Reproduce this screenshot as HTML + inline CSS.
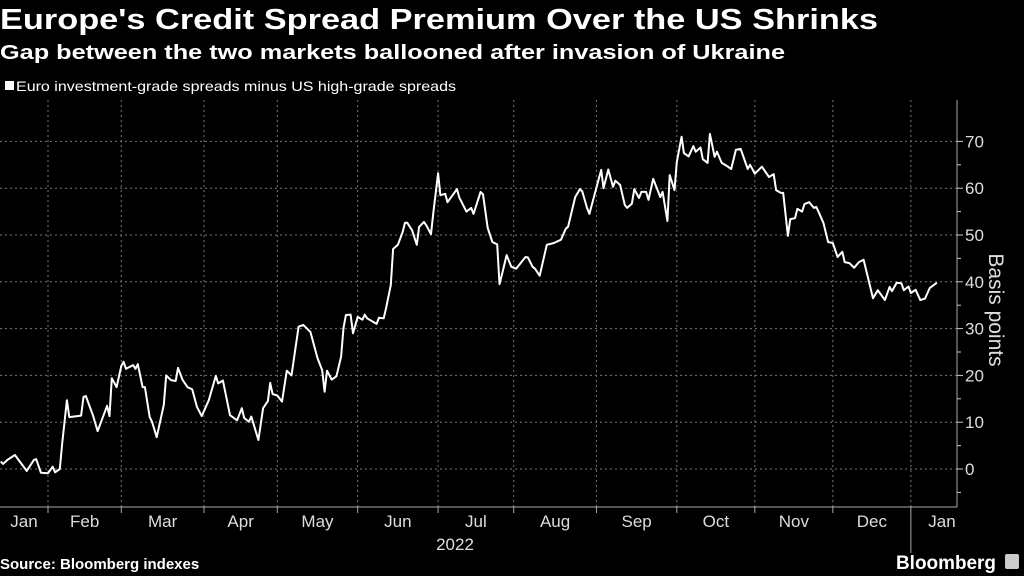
<!DOCTYPE html>
<html><head><meta charset="utf-8"><style>
html,body{margin:0;padding:0;background:#000;width:1024px;height:576px;overflow:hidden}
svg{display:block;font-family:"Liberation Sans",sans-serif}
</style></head><body>
<svg id="chart" width="1024" height="576" viewBox="0 0 1024 576">
<text x="0" y="29" fill="#fff" font-size="29" font-weight="bold" textLength="878" lengthAdjust="spacingAndGlyphs">Europe's Credit Spread Premium Over the US Shrinks</text>
<text x="0" y="59" fill="#fff" font-size="20" font-weight="bold" textLength="785" lengthAdjust="spacingAndGlyphs">Gap between the two markets ballooned after invasion of Ukraine</text>
<g>
<rect x="5" y="81" width="9" height="9" fill="#fff"/>
<text x="16" y="91" fill="#fff" font-size="14" textLength="440" lengthAdjust="spacingAndGlyphs">Euro investment-grade spreads minus US high-grade spreads</text>
</g>
<g id="grid"></g>
<g id="axes"></g>
<path id="line" fill="none" stroke="#fff" stroke-width="2" stroke-linejoin="round"/>
<text x="0" y="569" fill="#fff" font-size="15" font-weight="bold">Source: Bloomberg indexes</text>
<text x="896" y="569" fill="#fff" font-size="19" font-weight="bold" textLength="100" lengthAdjust="spacingAndGlyphs">Bloomberg</text>
<rect x="1005" y="554" width="14" height="15" rx="2" fill="#ccc"/>
</svg>
<script>
// time index (0 = start of February 2022)
const days=[-20,-19,-17,-14,-9,-6,-5,-3,0,2,3,5,6,8,9,14,15,16,19,21,25,26,27,29,31,32,33,36,37,38,40,41,43,44,46,49,50,52,54,55,57,59,61,63,65,68,71,72,74,77,80,82,83,85,86,89,91,93,94,95,97,99,101,103,106,108,111,114,116,117,118,120,122,124,125,126,128,129,131,133,134,135,139,140,142,143,145,146,148,150,151,152,154,156,157,159,160,162,163,165,166,168,169,171,173,174,176,177,179,180,183,184,186,188,190,191,192,194,196,198,202,203,205,206,208,211,214,217,219,220,223,225,226,228,229,233,234,235,237,239,240,242,244,245,247,248,250,251,253,254,256,259,260,262,263,265,266,268,269,271,273,274,276,277,279,280,282,283,285,287,289,291,293,296,297,299,302,305,307,308,310,311,313,314,316,317,319,320,322,324,325,328,330,332,334,336,337,339,341,343,345,349,351,354,356,357,359,361,362,364,365,367,369,371,373,376];
const values=[1.6,1.1,2,3,-0.4,1.9,2.1,-0.8,-0.9,0.5,-0.7,0,5.5,14.7,11.1,11.4,15.4,15.6,11.5,8.1,13.5,11.3,19.4,17.5,22,22.9,21.4,22.2,21.4,22.4,17.5,17.5,11.1,10.1,6.8,13.7,20,19,18.8,21.6,19,17.5,17,13.3,11.3,14.7,19.9,18.3,18.9,11.5,10.4,13,10.9,10.1,11.2,6.2,13,14.5,18.4,16,15.7,14.4,21,20,30.4,30.8,29.3,23.7,21.1,16.5,21,19.1,19.8,24,30.1,32.9,33,29,32.5,31.9,33,32.2,31,32.3,32.2,34.4,39.3,47,47.9,50.6,52.6,52.6,51,47.9,51.7,52.8,52.1,50.2,54.7,63.2,58.5,58.8,57,58.4,59.8,58,56,55,55.8,54.5,59.2,58.7,51.5,48.5,48,39.5,41.5,45.7,43.2,42.8,45.3,45.2,43.2,42.8,41.3,47.9,48.3,49,51.3,51.8,58.1,59.8,59.3,55.8,54.5,62,63.9,60,64,60.3,61.6,60.7,56.4,55.8,56.7,59.8,57.9,59.2,59.2,57.5,62,58.1,59.2,53,62.8,59.6,65.6,71,67.5,66.8,69,67.8,68.7,66.2,65.4,71.6,66.7,67.8,65.4,64.8,64.1,68.2,68.4,64.1,65,63.1,64.6,62.4,63,59.6,59,59,49.8,53.4,53.6,55.6,55,56.6,57,55.8,56,52.6,48.5,48.3,45.3,46.4,44.2,44,43,44.2,44.7,36.5,38.2,36.1,38.9,38,39.8,39.7,38.2,39,37.6,38.3,36.1,36.4,38.7,39.8];
const yTicks=[0,10,20,30,40,50,60,70];
const monthLabels=["Jan","Feb","Mar","Apr","May","Jun","Jul","Aug","Sep","Oct","Nov","Dec","Jan"];
const monthStarts=[0,31,66,97,131,165,197,232,266,299,332,365];
const NS="http://www.w3.org/2000/svg";
const X0=48,PXD=2.364,Y0=469,PXV=4.68,AX=957,TOP=100,BOT=507;
const xs=d=>X0+d*PXD, ys=v=>Y0-v*PXV;
const grid=document.getElementById('grid'),axes=document.getElementById('axes');
function mk(tag,attrs,parent){const e=document.createElementNS(NS,tag);for(const k in attrs)e.setAttribute(k,attrs[k]);parent.appendChild(e);return e;}
yTicks.forEach(v=>{
 const g=mk('line',{x1:0,x2:AX,y1:ys(v),y2:ys(v),stroke:'#777','stroke-width':1,'stroke-dasharray':'2 3'},grid);
 
 
 const t=mk('line',{x1:AX,x2:AX+6,y1:ys(v),y2:ys(v),stroke:'#ccc'},axes);
 
 
 const m=mk('line',{x1:AX,x2:AX+4,y1:ys(v-5),y2:ys(v-5),stroke:'#ccc'},axes);
 
 
 const l=mk('text',{x:AX+8,y:ys(v)+6,fill:'#ddd','font-size':17},axes);l.textContent=v;
 
 
});
monthStarts.forEach((d,i)=>{
 const x=xs(d);
 const g=mk('line',{x1:x,x2:x,y1:TOP,y2:BOT,stroke:'#777','stroke-dasharray':'2 3'},grid);
 
 
 const t=mk('line',{x1:x,x2:x,y1:BOT,y2:i==11?553:BOT+6,stroke:'#aaa'},axes);
 
 
});
monthLabels.forEach((lab,i)=>{
 let cx;
 if(i==0) cx=24;
 else if(i==12) cx=942;
 else cx=xs((monthStarts[i-1]+monthStarts[i])/2);
 const l=mk('text',{x:cx,y:527,fill:'#ddd','font-size':17,'text-anchor':'middle'},axes);l.textContent=lab;
 
 
});
const yr=mk('text',{x:455,y:550,fill:'#ddd','font-size':17,'text-anchor':'middle'},axes);yr.textContent='2022';


const bl=mk('line',{x1:0,x2:AX,y1:BOT,y2:BOT,stroke:'#aaa'},axes);


const rl=mk('line',{x1:AX,x2:AX,y1:TOP,y2:BOT,stroke:'#aaa'},axes);


const yt=mk('text',{x:0,y:0,fill:'#ddd','font-size':21,'text-anchor':'middle',transform:'translate(989,310) rotate(90)'},axes);yt.textContent='Basis points';


document.getElementById('line').setAttribute('d',days.map((d,i)=>(i?'L':'M')+xs(d).toFixed(1)+' '+ys(values[i]).toFixed(1)).join(' '));
</script>
</body></html>
